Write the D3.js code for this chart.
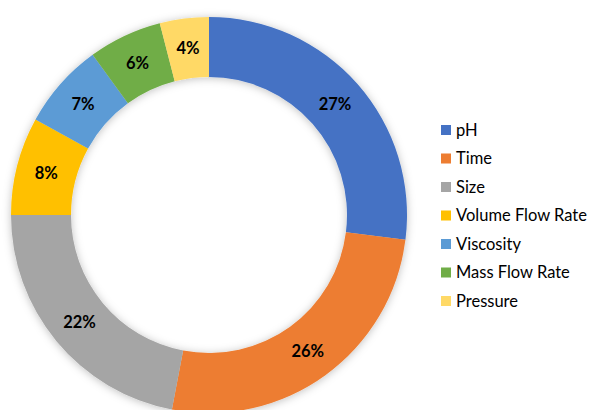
<!DOCTYPE html>
<html>
<head>
<meta charset="utf-8">
<script src="https://cdn.jsdelivr.net/npm/d3@7"></script>
<style>
body{margin:0;background:#fff}
svg{display:block}
</style>
</head>
<body>
<script>
var categories = ["pH","Time","Size","Volume Flow Rate","Viscosity","Mass Flow Rate","Pressure"]
var values = [27,26,22,8,7,6,4]
var colors = ["#4472C4","#ED7D31","#A5A5A5","#FFC000","#5B9BD5","#70AD47","#FFD966"]

var width = 595, height = 410
var cx = 209, cy = 215
var rOuter = 198, rInner = 138

var svg = d3.select("body").append("svg")
	.attr("width", width)
	.attr("height", height)

var defs = svg.append("defs")
var f = defs.append("filter").attr("id","shadow")
	.attr("x","-20%").attr("y","-20%").attr("width","140%").attr("height","140%")
f.append("feDropShadow")
	.attr("dx",0).attr("dy",1)
	.attr("stdDeviation",4)
	.attr("flood-color","#000")
	.attr("flood-opacity",0.25)

var color = d3.scaleOrdinal().domain(categories).range(colors)

var pie = d3.pie().sort(null).value(function(d){return d.v})
var data = categories.map(function(c,i){return {name:c, v:values[i]}})
var arcs = pie(data)

var arc = d3.arc().innerRadius(rInner).outerRadius(rOuter)
var total = d3.sum(values)

var g = svg.append("g").attr("transform","translate("+cx+","+cy+")")

g.append("g").attr("filter","url(#shadow)")
	.selectAll("path")
	.data(arcs)
	.enter()
	.append("path")
	.attr("d", arc)
	.attr("fill", function(d){return color(d.data.name)})

g.selectAll("text.lbl")
	.data(arcs)
	.enter()
	.append("text")
	.attr("class","lbl")
	.attr("transform", function(d){return "translate("+arc.centroid(d)+")"})
	.attr("text-anchor","middle")
	.attr("dy","0.36em")
	.style("font-family","Lato, 'Open Sans', sans-serif")
	.style("font-weight","bold")
	.style("font-size","16.5px")
	.attr("fill","#000")
	.text(function(d){return Math.round(d.data.v/total*100)+"%"})

// legend
var legY = d3.scalePoint().domain(categories).range([130,301])
var leg = svg.append("g")
	.selectAll("g")
	.data(categories)
	.enter()
	.append("g")
	.attr("transform", function(d){return "translate(441,"+legY(d)+")"})
leg.append("rect")
	.attr("x",0).attr("y",-5)
	.attr("width",10).attr("height",10)
	.attr("fill", function(d){return color(d)})
leg.append("text")
	.attr("x",15)
	.attr("dy","0.36em")
	.style("font-family","Lato, 'Open Sans', sans-serif")
	.style("font-size","16.5px")
	.attr("fill","#000")
	.text(function(d){return d})
</script>
</body>
</html>
